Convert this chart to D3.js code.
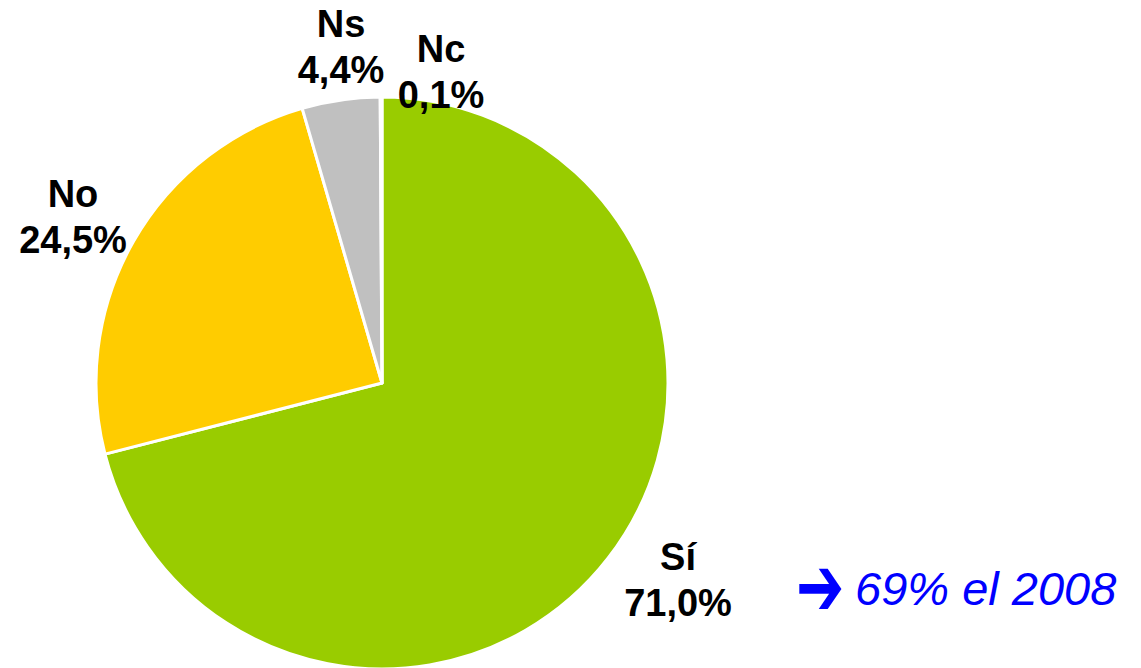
<!DOCTYPE html>
<html>
<head>
<meta charset="utf-8">
<script src="https://cdn.jsdelivr.net/npm/d3@7"></script>
<style>
  html, body { margin: 0; padding: 0; background: #fff; }
  svg { display: block; }
</style>
</head>
<body>
<svg id="chart" width="1141" height="668"></svg>
<script>
// Survey answers, clockwise from 12 o'clock
const categories = ["Sí", "No", "Ns", "Nc"];
const values = [71.0, 24.5, 4.4, 0.1];
const colors = ["#99CC00", "#FFCC00", "#C0C0C0", "#FFFFFF"];
const valueLabels = ["71,0%", "24,5%", "4,4%", "0,1%"];
// label anchor points (centre x, first-line baseline)
const labelPos = [[678, 570], [73, 207], [341, 37], [441, 62]];
const note = "69% el 2008";

const svg = d3.select("#chart");
const cx = 382, cy = 383, radius = 286;

const pie = d3.pie().sort(null).value(d => d)(values);
const arc = d3.arc().innerRadius(0).outerRadius(radius);

const g = svg.append("g").attr("transform", `translate(${cx},${cy})`);
g.selectAll("path")
  .data(pie)
  .join("path")
  .attr("d", arc)
  .attr("fill", (d, i) => colors[i])
  .attr("stroke", "#fff")
  .attr("stroke-width", 3)
  .attr("stroke-linejoin", "round");

// Category and percentage labels
const labels = svg.append("g")
  .attr("font-family", "'Liberation Sans', Arial, sans-serif")
  .attr("font-weight", "bold")
  .attr("font-size", 38)
  .attr("fill", "#000")
  .attr("text-anchor", "middle");

categories.forEach((c, i) => {
  const [x, y] = labelPos[i];
  const t = labels.append("text").attr("x", x).attr("y", y);
  t.append("tspan").attr("x", x).text(c);
  t.append("tspan").attr("x", x).attr("dy", 46).text(valueLabels[i]);
});

// Comparison note with a heavy arrow
svg.append("text")
  .attr("transform", "translate(796,615) scale(0.72,1.05)")
  .attr("font-family", "'DejaVu Sans', sans-serif")
  .attr("font-weight", "bold")
  .attr("font-size", 80)
  .attr("fill", "#0000FF")
  .text("➔");

svg.append("text")
  .attr("x", 855).attr("y", 605)
  .attr("font-family", "'Liberation Sans', Arial, sans-serif")
  .attr("font-style", "italic")
  .attr("font-size", 47)
  .attr("fill", "#0000FF")
  .text(note);
</script>
</body>
</html>
